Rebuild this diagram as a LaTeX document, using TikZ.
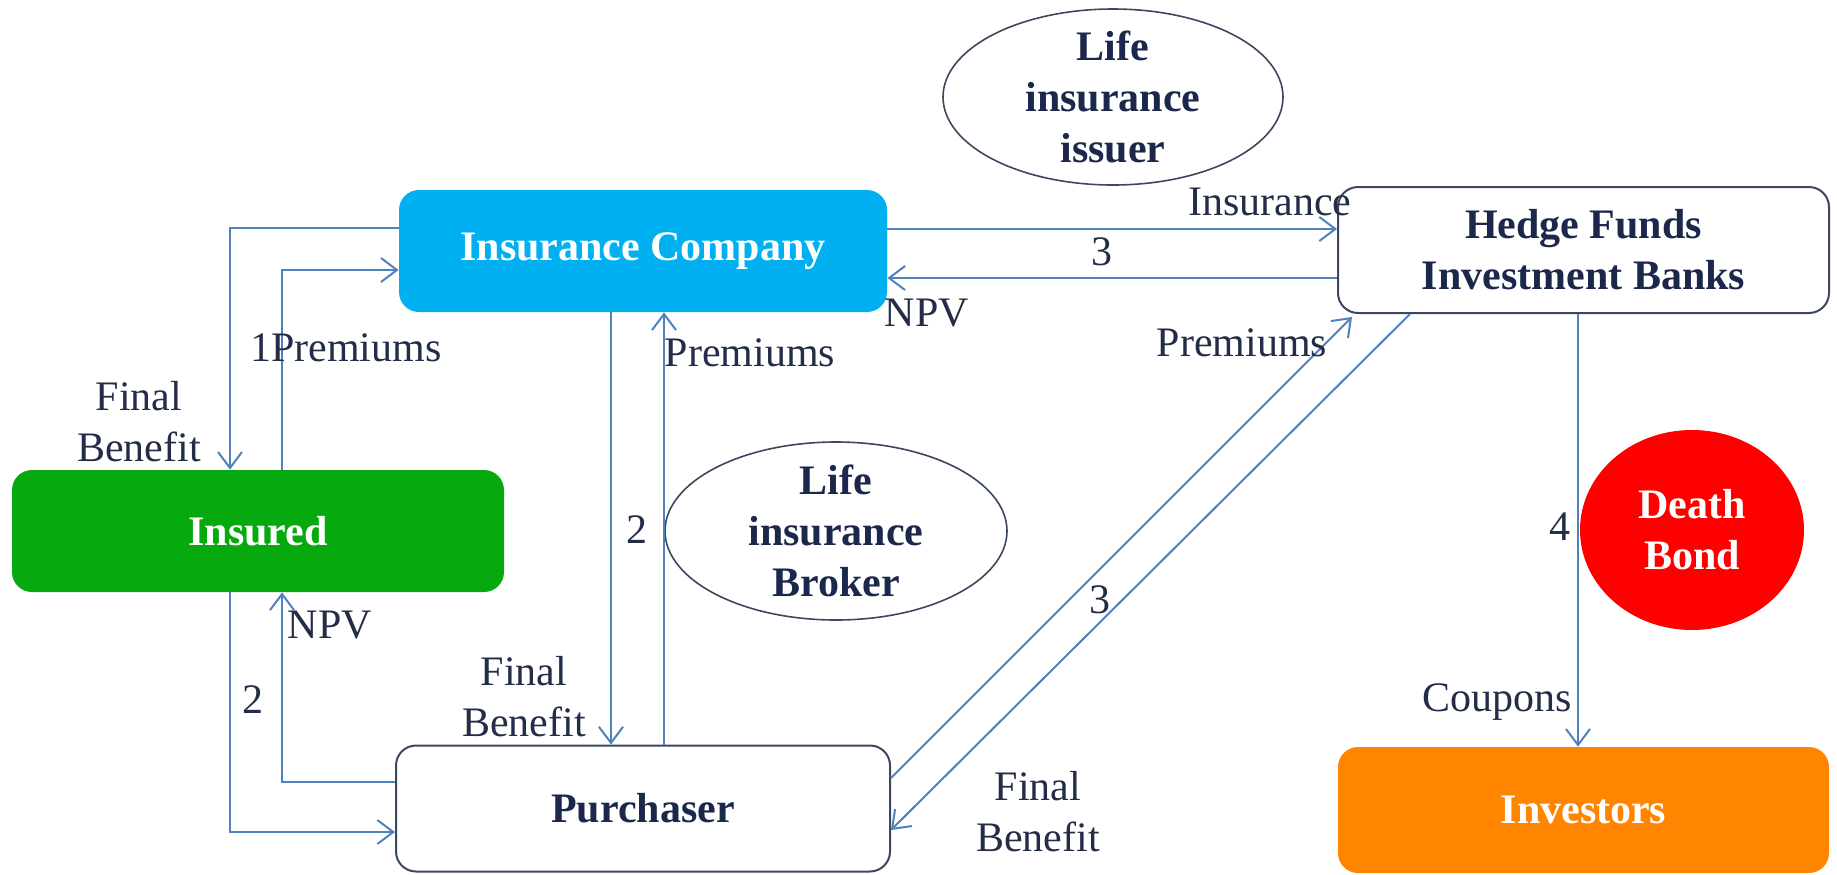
\documentclass[tikz,border=0pt]{standalone}
\usepackage{fontspec}
\setmainfont{Liberation Serif}
\usetikzlibrary{shapes.geometric,arrows.meta,calc}

\definecolor{flowblue}{RGB}{79,129,189}
\definecolor{labelink}{RGB}{35,45,72}
\definecolor{boldink}{RGB}{27,40,76}
\definecolor{edgegray}{RGB}{60,72,95}
\definecolor{skyfill}{RGB}{0,176,240}
\definecolor{greenfill}{RGB}{6,170,14}
\definecolor{orangefill}{RGB}{255,133,0}
\definecolor{redfill}{RGB}{255,0,0}

\begin{document}
\begin{tikzpicture}[x=0.5pt,y=-0.5pt,
  font=\fontsize{21pt}{25.5pt}\selectfont,
  actor/.style={rectangle, rounded corners=10pt, inner sep=0pt, align=center,
                font=\fontsize{21pt}{25.5pt}\selectfont\bfseries},
  colorbox/.style={actor, draw=none, text=white},
  whitebox/.style={actor, draw=edgegray, line width=1pt, fill=white, text=boldink},
  oval/.style={ellipse, draw=edgegray, line width=0.8pt, inner sep=0pt},
  ovaltext/.style={align=center, text=boldink,
                   font=\fontsize{21pt}{25.5pt}\selectfont\bfseries},
  flow/.style={draw=flowblue, line width=1pt,
               -{Straight Barb[length=8pt,width=12pt,line width=1pt]}},
  tag/.style={text=labelink, inner sep=0pt, align=center}
]
\useasboundingbox (0,0) rectangle (1837,874);

% ---- parties ----
\node[colorbox, fill=skyfill, minimum width=244pt, minimum height=61pt]
  (ic) at (643,251) {Insurance Company};
\node[whitebox, minimum width=245.5pt, minimum height=63pt]
  (hedge) at (1583.5,250) {Hedge Funds\\Investment Banks};
\node[colorbox, fill=greenfill, minimum width=246pt, minimum height=61pt]
  (insured) at (258,531) {Insured};
\node[whitebox, minimum width=247pt, minimum height=63pt]
  (purch) at (643,808.5) {Purchaser};
\node[colorbox, fill=orangefill, minimum width=245.5pt, minimum height=63pt]
  (inv) at (1583.5,810) {Investors};

% ---- roles ----
\node[oval, minimum width=170pt, minimum height=88pt] (issuer) at (1113,97) {};
\node[ovaltext] (issuertxt) at (issuer.center) {Life\\insurance\\issuer};
\node[oval, minimum width=171pt, minimum height=89pt] (broker) at (836,531) {};
\node[ovaltext] (brokertxt) at (broker.center) {Life\\insurance\\Broker};
\node[ellipse, fill=redfill, draw=none, minimum width=112pt, minimum height=100pt,
      inner sep=0pt] (bond) at (1692,530) {};
\node[ovaltext, text=white] (bondtxt) at (bond.center) {Death\\Bond};

% ---- flows between insured, insurer and purchaser ----
\draw[flow] ($(ic.west)+(0,-23)$) -| ($(insured.north)+(-28,0)$);
\draw[flow] ($(insured.north)+(24,0)$) |- ($(ic.west)+(0,19)$);
\draw[flow] ($(ic.south)+(-32,0)$) -- ($(purch.north)+(-32,0)$);
\draw[flow] ($(purch.north)+(21,0)$) -- ($(ic.south)+(21,0)$);
\draw[flow] ($(insured.south)+(-28,0)$) |- ($(purch.west)+(0,23.5)$);
\draw[flow] ($(purch.west)+(0,-26.5)$) -| ($(insured.south)+(24,0)$);

% ---- flows with the hedge funds ----
\draw[flow] ($(ic.east)+(0,-22)$) -- ($(hedge.west)+(0,-21)$);
\draw[flow] ($(hedge.west)+(0,28)$) -- ($(ic.east)+(0,27)$);
\draw[flow] ($(purch.east)+(0,-30.5)$) -- ($(hedge.south)+(-231.5,3)$);
\draw[flow] ($(hedge.south)+(-173.5,0)$) -- ($(purch.east)+(0,21.5)$);
\draw[flow] ($(hedge.south)+(-5.5,0)$) -- ($(inv.north)+(-5.5,0)$);

% ---- labels ----
\node[tag] (l1) at (139,422) {Final\\Benefit};
\node[tag] (l2) at (346,348) {1Premiums};
\node[tag] (l3) at (750,353) {Premiums};
\node[tag] (l4) at (637,530) {2};
\node[tag] (l5) at (524,697) {Final\\Benefit};
\node[tag] (l6) at (253,700) {2};
\node[tag] (l7) at (330,625) {NPV};
\node[tag] (l8) at (1270,202) {Insurance};
\node[tag] (l9) at (1102,252) {3};
\node[tag] (l10) at (927,313) {NPV};
\node[tag] (l11) at (1242,343) {Premiums};
\node[tag] (l12) at (1100,600) {3};
\node[tag] (l13) at (1038,812) {Final\\Benefit};
\node[tag] (l14) at (1560,527) {4};
\node[tag] (l15) at (1497,702) {Coupons};
\end{tikzpicture}
\end{document}
